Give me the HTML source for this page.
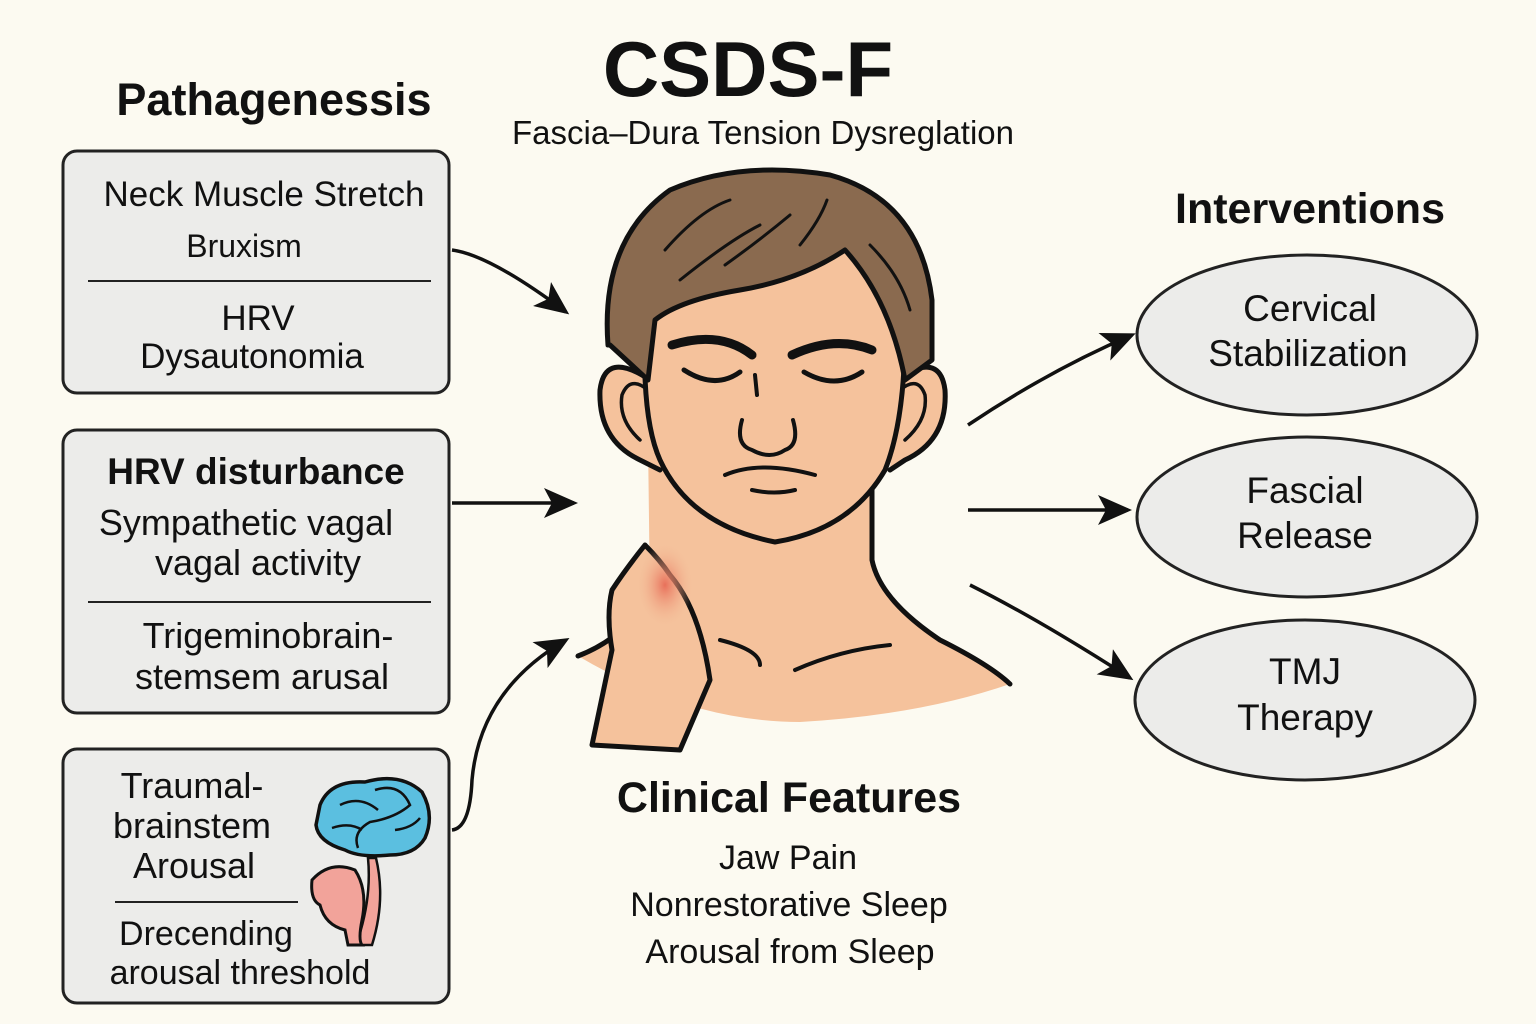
<!DOCTYPE html>
<html><head><meta charset="utf-8"><style>
html,body{margin:0;padding:0;background:#fcfaf1;}
svg{display:block}
text{font-family:"Liberation Sans","DejaVu Sans",sans-serif;fill:#111;}
.b{font-weight:bold}
</style></head><body>
<svg width="1536" height="1024" viewBox="0 0 1536 1024" xmlns="http://www.w3.org/2000/svg">
<defs>
<marker id="ah2" markerWidth="34" markerHeight="30" refX="30" refY="15" orient="auto" markerUnits="userSpaceOnUse">
<path d="M0,0 L34,15 L0,30 L8,15 Z" fill="#111"/></marker>
<radialGradient id="red" cx="0.5" cy="0.5" r="0.5"><stop offset="0" stop-color="#e8705a"/><stop offset="1" stop-color="#f3bd98" stop-opacity="0"/></radialGradient>
</defs>
<rect width="1536" height="1024" fill="#fcfaf1"/>

<text x="748" y="96" font-size="78" class="b" text-anchor="middle">CSDS-F</text>
<text x="763" y="144" font-size="33" text-anchor="middle">Fascia–Dura Tension Dysreglation</text>
<text x="274" y="115" font-size="45" class="b" text-anchor="middle">Pathagenessis</text>
<text x="1310" y="223" font-size="43" class="b" text-anchor="middle">Interventions</text>

<g fill="#ececea" stroke="#222" stroke-width="3">
<rect x="63" y="151" width="386" height="242" rx="14"/>
<rect x="63" y="430" width="386" height="283" rx="14"/>
<rect x="63" y="749" width="386" height="254" rx="14"/>
</g>
<g stroke="#222" stroke-width="2">
<line x1="88" y1="281" x2="431" y2="281"/>
<line x1="88" y1="602" x2="431" y2="602"/>
<line x1="115" y1="902" x2="298" y2="902"/>
</g>
<text x="264" y="206" font-size="35" text-anchor="middle">Neck Muscle Stretch</text>
<text x="244" y="257" font-size="32" text-anchor="middle">Bruxism</text>
<text x="258" y="330" font-size="35" text-anchor="middle">HRV</text>
<text x="252" y="368" font-size="35" text-anchor="middle">Dysautonomia</text>
<text x="256" y="484" font-size="37" class="b" text-anchor="middle">HRV disturbance</text>
<text x="246" y="535" font-size="36" text-anchor="middle">Sympathetic vagal</text>
<text x="258" y="575" font-size="36" text-anchor="middle">vagal activity</text>
<text x="268" y="648" font-size="36" text-anchor="middle">Trigeminobrain-</text>
<text x="262" y="689" font-size="36" text-anchor="middle">stemsem arusal</text>
<text x="192" y="798" font-size="36" text-anchor="middle">Traumal-</text>
<text x="192" y="838" font-size="36" text-anchor="middle">brainstem</text>
<text x="194" y="878" font-size="36" text-anchor="middle">Arousal</text>
<text x="206" y="945" font-size="34" text-anchor="middle">Drecending</text>
<text x="240" y="984" font-size="34" text-anchor="middle">arousal threshold</text>

<path d="M376,858 Q386,900 372,945 L356,945 Q372,900 368,858 Z" fill="#f2a39a" stroke="#111" stroke-width="2.5"/>
<path d="M312,880 Q330,860 355,870 Q368,890 362,920 Q358,940 362,945 L348,945 L345,930 Q325,925 320,905 Q310,900 312,880 Z" fill="#f2a39a" stroke="#111" stroke-width="3"/>
<path d="M320,805 Q330,780 365,782 Q400,772 422,792 Q435,815 425,838 Q415,855 390,855 Q360,858 345,850 Q318,842 316,825 Z" fill="#5bbfe0" stroke="#111" stroke-width="3.5"/>
<path d="M340,805 Q360,795 378,810 M375,790 Q400,782 410,805 Q395,818 370,822 Q352,832 358,848 M332,828 Q350,822 362,830 M395,830 Q412,828 420,818" fill="none" stroke="#111" stroke-width="2.5"/>

<g fill="#ececea" stroke="#222" stroke-width="3">
<ellipse cx="1307" cy="335" rx="170" ry="80"/>
<ellipse cx="1307" cy="517" rx="170" ry="80"/>
<ellipse cx="1305" cy="700" rx="170" ry="80"/>
</g>
<text x="1310" y="321" font-size="37" text-anchor="middle">Cervical</text>
<text x="1308" y="366" font-size="37" text-anchor="middle">Stabilization</text>
<text x="1305" y="503" font-size="37" text-anchor="middle">Fascial</text>
<text x="1305" y="548" font-size="37" text-anchor="middle">Release</text>
<text x="1305" y="684" font-size="37" text-anchor="middle">TMJ</text>
<text x="1305" y="730" font-size="37" text-anchor="middle">Therapy</text>

<text x="789" y="812" font-size="43" class="b" text-anchor="middle">Clinical Features</text>
<text x="788" y="869" font-size="34" text-anchor="middle">Jaw Pain</text>
<text x="789" y="916" font-size="34" text-anchor="middle">Nonrestorative Sleep</text>
<text x="790" y="963" font-size="34" text-anchor="middle">Arousal from Sleep</text>

<g fill="none" stroke="#111" stroke-width="3.5">
<path d="M452,250 Q490,255 566,312" marker-end="url(#ah2)"/>
<path d="M452,503 L574,503" marker-end="url(#ah2)"/>
<path d="M452,830 Q470,828 472,780 Q480,690 566,640" marker-end="url(#ah2)"/>
<path d="M968,425 Q1050,370 1132,335" marker-end="url(#ah2)"/>
<path d="M968,510 L1128,510" marker-end="url(#ah2)"/>
<path d="M970,585 Q1040,620 1130,678" marker-end="url(#ah2)"/>
</g>

<g stroke="#111" stroke-width="5" stroke-linejoin="round" stroke-linecap="round">
<path d="M578,656 Q620,640 650,600 L648,440 L872,460 L872,560 Q880,600 940,640 Q990,665 1010,684 Q920,715 800,722 Q690,722 578,656 Z" fill="#f5c29c" stroke="none"/>
<path d="M578,656 Q620,640 650,600 M872,470 L872,560 Q880,600 940,640 Q990,665 1010,684" fill="none"/>
<path d="M720,640 Q760,650 760,665 M795,670 Q840,650 890,645" fill="none" stroke-width="4"/>
<path d="M650,380 Q605,350 600,390 Q598,440 640,460 L660,470" fill="#f5c29c"/>
<path d="M895,380 Q940,350 945,390 Q948,440 905,460 L890,470" fill="#f5c29c"/>
<path d="M640,440 Q618,420 622,395 Q630,375 648,390 M905,440 Q928,420 925,395 Q918,375 900,390" fill="none" stroke-width="3.5"/>
<path d="M648,240 L905,240 L905,330 Q905,420 885,470 Q850,530 775,542 Q690,525 660,460 Q642,420 645,330 Z" fill="#f5c29c"/>
<path d="M608,345 Q600,240 670,190 Q740,160 830,175 Q920,200 932,300 L932,360 L905,380 Q890,300 845,250 Q800,280 740,290 Q680,300 655,320 L648,380 L610,345 Z" fill="#8a6a4f"/>
<g fill="none" stroke-width="3">
<path d="M665,250 Q700,210 730,200 M680,280 Q730,240 760,225 M725,265 Q760,240 790,215 M800,245 Q820,220 827,200 M870,245 Q900,275 910,310"/>
</g>
<path d="M592,745 L612,650 Q606,615 612,590 Q625,570 645,545 Q660,560 670,575 Q700,610 710,680 L680,750 Z" fill="#f5c29c"/>
</g>
<ellipse cx="665" cy="585" rx="28" ry="42" fill="url(#red)"/>
<g fill="none" stroke="#111" stroke-linecap="round">
<path d="M672,345 Q720,330 752,355" stroke-width="9"/>
<path d="M792,355 Q835,335 872,350" stroke-width="9"/>
<path d="M684,370 Q715,390 740,372 M804,372 Q835,390 862,372" stroke-width="5"/>
<path d="M755,375 L757,395 M742,420 Q735,445 752,450 Q770,460 785,450 Q800,445 793,420" stroke-width="4"/>
<path d="M725,475 Q760,460 815,475 M752,490 Q775,495 795,490" stroke-width="4"/>
</g>
</svg>
</body></html>
